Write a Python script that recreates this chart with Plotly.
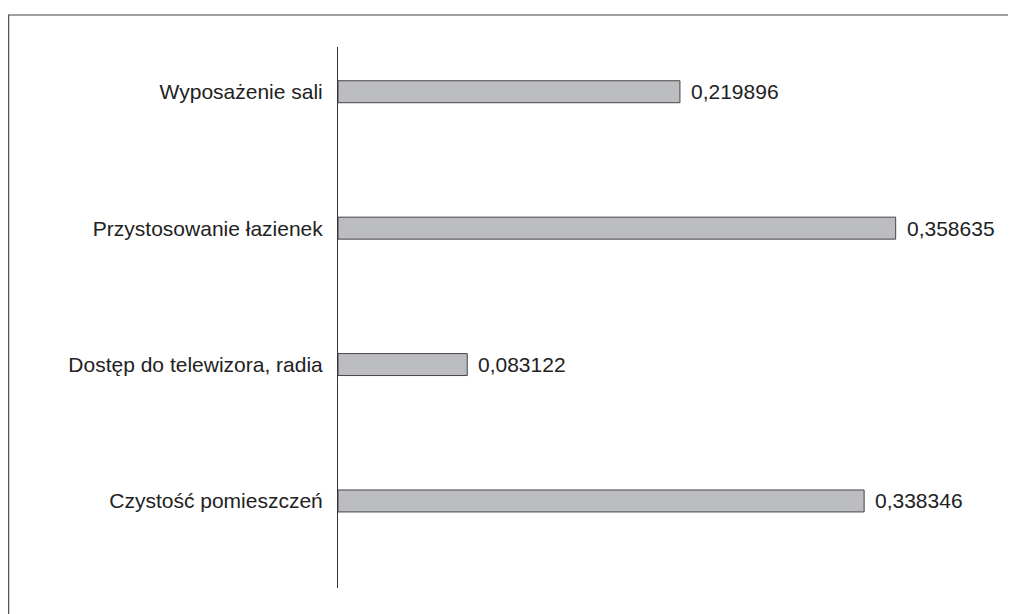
import plotly.graph_objects as go

categories = ["Czystość pomieszczeń", "Dostęp do telewizora, radia",
              "Przystosowanie łazienek", "Wyposażenie sali"]
values = [0.338346, 0.083122, 0.358635, 0.219896]
value_labels = [f"{v:.6f}".replace(".", ",") for v in values]

# page body has an 8px margin, so the figure is sized/offset to compensate
OFF = 8
W, H = 1016 - OFF, 614 - OFF
ML, MT, MB = 338 - OFF, 47 - OFF, 26
pw = 632
MR = W - ML - pw
ph = H - MT - MB

FONT = "Liberation Sans, Arial, Helvetica, sans-serif"

fig = go.Figure()
fig.add_trace(go.Bar(
    x=values, y=list(range(len(categories))), orientation="h",
    width=0.161,
    marker=dict(color="#bcbdc1", line=dict(color="#444444", width=1)),
    hoverinfo="skip",
))

for i, (v, t) in enumerate(zip(values, value_labels)):
    fig.add_annotation(x=v, y=i, xref="x", yref="y", text=t, showarrow=False,
                       xanchor="left", yanchor="middle", xshift=9,
                       font=dict(family=FONT, size=21, color="#222222"))

# frame around chart (top and left edges visible); coordinates in page pixels
def px_to_paper_x(px):
    return (px - OFF - ML) / pw

def px_to_paper_y(py):
    return (H - MB - (py - OFF)) / ph

fig.add_shape(type="line", xref="paper", yref="paper",
              x0=px_to_paper_x(8), x1=px_to_paper_x(1020),
              y0=px_to_paper_y(15), y1=px_to_paper_y(15),
              line=dict(color="#808080", width=1.5))
fig.add_shape(type="line", xref="paper", yref="paper",
              x0=px_to_paper_x(8.5), x1=px_to_paper_x(8.5),
              y0=px_to_paper_y(15), y1=px_to_paper_y(620),
              line=dict(color="#555555", width=1.5))

fig.update_layout(
    width=W, height=H,
    margin=dict(l=ML, r=MR, t=MT, b=MB, pad=0),
    paper_bgcolor="white", plot_bgcolor="white",
    showlegend=False,
    font=dict(family=FONT, size=21, color="#222222"),
    xaxis=dict(range=[0, pw / 1555.0], visible=False, showgrid=False, zeroline=False),
    yaxis=dict(range=[-0.638, 3.328], tickmode="array",
               tickvals=list(range(len(categories))), ticktext=categories,
               showline=True, linecolor="#333333", linewidth=1,
               ticks="outside", ticklen=0, ticklabelstandoff=10,
               showgrid=False, zeroline=False,
               tickfont=dict(family=FONT, size=21, color="#222222")),
)

fig.write_html("out.html")
